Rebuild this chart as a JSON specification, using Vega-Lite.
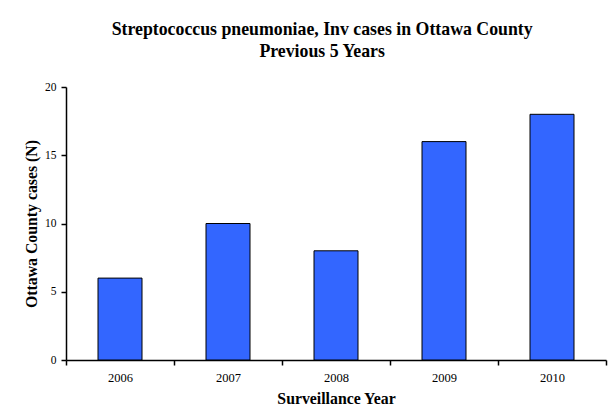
{
  "$schema": "https://vega.github.io/schema/vega-lite/v6.json",
  "width": 540,
  "height": 273,
  "autosize": "none",
  "padding": {"left": 66, "top": 87, "right": 4, "bottom": 51},
  "background": "white",
  "title": {
    "text": ["Streptococcus pneumoniae, Inv cases in Ottawa County", "Previous 5 Years"],
    "font": "Liberation Serif",
    "fontSize": 17.8,
    "fontWeight": "bold",
    "color": "black",
    "lineHeight": 22,
    "anchor": "middle",
    "frame": "bounds",
    "offset": 20,
    "dx": 7
  },
  "data": {
    "values": [
      {"year": "2006", "cases": 6},
      {"year": "2007", "cases": 10},
      {"year": "2008", "cases": 8},
      {"year": "2009", "cases": 16},
      {"year": "2010", "cases": 18}
    ]
  },
  "mark": {"type": "bar", "color": "#3366FF", "stroke": "black", "strokeWidth": 1, "size": 44},
  "encoding": {
    "x": {
      "field": "year",
      "type": "ordinal",
      "scale": {"paddingInner": 0, "paddingOuter": 0},
      "axis": {
        "title": "Surveillance Year",
        "labelAngle": 0,
        "labelFontSize": 12.5,
        "tickBand": "extent",
        "tickSize": 5,
        "labelPadding": 6,
        "titlePadding": 8
      }
    },
    "y": {
      "field": "cases",
      "type": "quantitative",
      "scale": {"domain": [0, 20]},
      "axis": {
        "title": "Ottawa County cases (N)",
        "values": [0, 5, 10, 15, 20],
        "grid": false,
        "labelFontSize": 11.5,
        "tickSize": 5,
        "labelPadding": 5,
        "titlePadding": 5
      }
    }
  },
  "config": {
    "view": {"stroke": null},
    "axis": {
      "domainColor": "black",
      "tickColor": "black",
      "labelColor": "black",
      "titleColor": "black",
      "labelFont": "Liberation Serif",
      "titleFont": "Liberation Serif",
      "titleFontSize": 15.8,
      "titleFontWeight": "bold",
      "domainWidth": 1.5,
      "tickWidth": 1.5
    }
  }
}
